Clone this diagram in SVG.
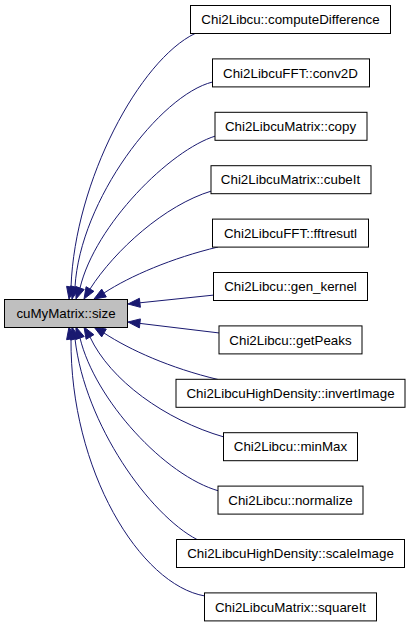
<svg xmlns="http://www.w3.org/2000/svg" width="411" height="627" viewBox="0 0 411 627">
<style>
.n rect{fill:#ffffff;stroke:#000000;stroke-width:1}
#main rect{fill:#bfbfbf}
.n text{font-family:"Liberation Sans",Arial,Helvetica,sans-serif;font-size:13.33px;text-anchor:middle;fill:#000000}
.e path{fill:none;stroke:#191970;stroke-width:1}
.e polygon{fill:#191970;stroke:#191970;stroke-width:1}
</style>
<rect width="411" height="627" fill="#ffffff"/>
<g id="connectors" class="e">
<path d="M195,33.5 C140,60 75,180 71,287"/>
<polygon points="69,299 75.4,287.7 66.6,286.3"/>
<path d="M212.5,82 C160,95 80,200 75,287"/>
<polygon points="72,299 79.4,288.1 70.6,285.9"/>
<path d="M215.5,136 C170,150 95,225 80,288"/>
<polygon points="76,299 84.2,289.5 75.8,286.5"/>
<path d="M211.5,191 C165,205 115,250 90,289"/>
<polygon points="84,299 93.9,291.3 86.1,286.7"/>
<path d="M218,247 C172,258 130,276 104,293"/>
<polygon points="94,299 106.3,296.9 101.7,289.1"/>
<path d="M214.5,295 L139.9,302.8"/>
<polygon points="128,304 140.4,307.3 139.4,298.3"/>
<path d="M219.5,333 L139.9,323.4"/>
<polygon points="128,322 139.4,327.9 140.4,318.9"/>
<path d="M218,379.5 C170,368 130,350 104,333"/>
<polygon points="94,327 106.3,329.1 101.7,336.9"/>
<path d="M224,437 C165,420 110,380 90,337"/>
<polygon points="84,327 93.9,334.7 86.1,339.3"/>
<path d="M219,491 C165,476 95,400 80,338"/>
<polygon points="76,327 84.2,336.5 75.8,339.5"/>
<path d="M197,539.5 C150,515 85,425 75,339"/>
<polygon points="72,327 79.4,337.9 70.6,340.1"/>
<path d="M205,596 C140,585 70,470 71,339"/>
<polygon points="69,327 75.4,338.3 66.6,339.7"/>
</g>
<g id="main" class="n"><rect x="4.5" y="299.5" width="123" height="28"/><text x="66" y="318">cuMyMatrix::size</text></g>
<g id="n0" class="n"><rect x="190.5" y="5.5" width="200" height="28"/><text x="290.5" y="24.2">Chi2Libcu::computeDifference</text></g>
<g id="n1" class="n"><rect x="212.5" y="58.9" width="157" height="28"/><text x="290.5" y="77.6">Chi2LibcuFFT::conv2D</text></g>
<g id="n2" class="n"><rect x="215" y="112.3" width="152" height="28"/><text x="290.5" y="131">Chi2LibcuMatrix::copy</text></g>
<g id="n3" class="n"><rect x="211" y="165.7" width="160" height="28"/><text x="290.5" y="184.4">Chi2LibcuMatrix::cubeIt</text></g>
<g id="n4" class="n"><rect x="212.5" y="219.1" width="156" height="28"/><text x="290.5" y="237.8">Chi2LibcuFFT::fftresutl</text></g>
<g id="n5" class="n"><rect x="213.5" y="272.5" width="154" height="28"/><text x="290.5" y="291.2">Chi2Libcu::gen_kernel</text></g>
<g id="n6" class="n"><rect x="219" y="325.9" width="143" height="28"/><text x="290.5" y="344.6">Chi2Libcu::getPeaks</text></g>
<g id="n7" class="n"><rect x="176" y="379.3" width="229" height="28"/><text x="290.5" y="398">Chi2LibcuHighDensity::invertImage</text></g>
<g id="n8" class="n"><rect x="223.5" y="432.7" width="134" height="28"/><text x="290.5" y="451.4">Chi2Libcu::minMax</text></g>
<g id="n9" class="n"><rect x="218" y="486.1" width="145" height="28"/><text x="290.5" y="504.8">Chi2Libcu::normalize</text></g>
<g id="n10" class="n"><rect x="176.5" y="539.5" width="228" height="28"/><text x="290.5" y="558.2">Chi2LibcuHighDensity::scaleImage</text></g>
<g id="n11" class="n"><rect x="204.5" y="592.9" width="172" height="28"/><text x="290.5" y="611.6">Chi2LibcuMatrix::squareIt</text></g>
</svg>
